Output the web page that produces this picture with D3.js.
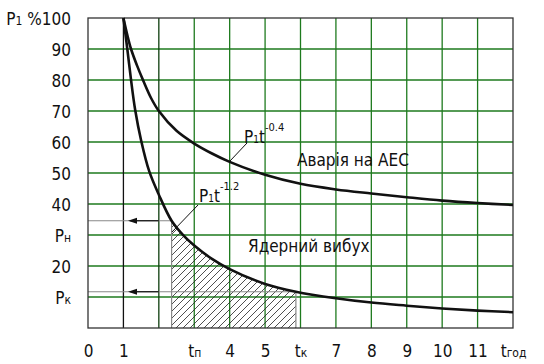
<!DOCTYPE html>
<html><head><meta charset="utf-8">
<script src="https://cdn.jsdelivr.net/npm/d3@7"></script>
<style>
body{margin:0;background:#fff;}
svg text{font-family:"DejaVu Sans Condensed","DejaVu Sans",sans-serif;fill:#111;}
</style></head>
<body><svg id="c" width="544" height="364"></svg>
<script>
// ---- data ----
const xTickValues = [0,1,2,3,4,5,6,7,8,9,10,11,12];
const xTickLabels = ["0","1","","tп","4","5","tк","7","8","9","10","11","tгод"];
const yTickValues = [10,20,30,40,50,60,70,80,90,100];
const yTickLabels = ["Pк","20","Pн","40","50","60","70","80","90","100"];
// accident at NPP curve (P1·t^-0.4)
const aesT = [1,1.1,1.215,1.38,1.56,1.78,2.0,2.5,3.0,3.5,4.0,5.0,6.0,7.0,8.0,9.0,10,11,12];
const aesP = [100,95,90,84.8,79.8,74.2,70,63.6,59.5,56.3,53.6,49.4,46.5,44.7,43.4,42.2,41.1,40.3,39.7];
// nuclear explosion curve (P1·t^-1.2)
const nucT = [1,1.11,1.21,1.33,1.5,1.73,2.0,2.36,2.7,3.0,3.5,4.0,5.0,5.87,7.0,8.0,9.0,10,11,12];
const nucP = [100,90,80.5,70.5,60.5,50.5,43,34.6,29.8,26.6,22.3,19,14.2,11.7,9.6,8.2,7.2,6.3,5.6,5.1];
const tStart = 2.36, tEnd = 5.87;   // tп, tк
const pStart = 34.6, pEnd = 11.7;   // Pн, Pк

const svg = d3.select("#c");
const W=544,H=364, m={l:88,r:31,t:18,b:36};
const x = d3.scaleLinear().domain([0,12]).range([m.l, W-m.r]);
const y = d3.scaleLinear().domain([0,100]).range([H-m.b, m.t]);
const green = "#1e7a1e";
const curve = d3.curveCatmullRom.alpha(0.5);

// hatch pattern
const defs = svg.append("defs");
const pat = defs.append("pattern").attr("id","hatch").attr("patternUnits","userSpaceOnUse")
  .attr("width",7).attr("height",7);
pat.append("path").attr("d","M-1,1 l2,-2 M0,7 l7,-7 M6,8 l2,-2").attr("stroke","#222").attr("stroke-width",0.8);
defs.append("clipPath").attr("id","hclip").append("rect")
  .attr("x",x(tStart)).attr("y",y(100)).attr("width",x(tEnd)-x(tStart)).attr("height",y(0)-y(100));

// horizontal grid
svg.append("g").selectAll("line").data(yTickValues.filter(v=>v<100)).join("line")
  .attr("x1",x(0)).attr("x2",x(12)).attr("y1",d=>y(d)).attr("y2",d=>y(d))
  .attr("stroke",green).attr("stroke-width",1.3);
// vertical grid
svg.append("g").selectAll("line").data(d3.range(1,12)).join("line")
  .attr("x1",d=>x(d)).attr("x2",d=>x(d)).attr("y1",y(0)).attr("y2",y(100))
  .attr("stroke",d=>d===1?"#111":(d===2?"#0d3d0d":green)).attr("stroke-width",1.3);

// hatched area
const area = d3.area().x((d,i)=>x(nucT[i])).y0(y(0)).y1((d,i)=>y(nucP[i])).curve(curve);
svg.append("path").datum(nucP).attr("d",area).attr("fill","url(#hatch)").attr("clip-path","url(#hclip)");
// hatch edges
svg.append("line").attr("x1",x(tStart)).attr("x2",x(tStart)).attr("y1",y(0)).attr("y2",y(pStart)).attr("stroke","#888").attr("stroke-width",1.2);
svg.append("line").attr("x1",x(tEnd)).attr("x2",x(tEnd)).attr("y1",y(0)).attr("y2",y(pEnd)).attr("stroke","#888").attr("stroke-width",1.2);
// Pн, Pк lines
svg.append("line").attr("x1",x(0)).attr("x2",x(tStart)).attr("y1",y(pStart)).attr("y2",y(pStart)).attr("stroke","#888").attr("stroke-width",1.2);
svg.append("line").attr("x1",x(0)).attr("x2",x(tEnd)).attr("y1",y(pEnd)).attr("y2",y(pEnd)).attr("stroke","#888").attr("stroke-width",1.2);
// arrows
[pStart,pEnd].forEach(p=>{
  svg.append("line").attr("x1",x(2)).attr("x2",x(1.2)).attr("y1",y(p)).attr("y2",y(p)).attr("stroke","#111").attr("stroke-width",1.2);
  const ax=x(1.13), ay=y(p);
  svg.append("path").attr("d",`M${ax},${ay} l9,-3 l0,6 z`).attr("fill","#111");
});

// frame
svg.append("rect").attr("x",x(0)).attr("y",y(100)).attr("width",x(12)-x(0)).attr("height",y(0)-y(100))
  .attr("fill","none").attr("stroke","#333").attr("stroke-width",1.3);

// curves
const line = (T)=>d3.line().x((d,i)=>x(T[i])).y(d=>y(d)).curve(curve);
svg.append("path").datum(aesP).attr("d",line(aesT)).attr("fill","none").attr("stroke","#111").attr("stroke-width",2.6);
svg.append("path").datum(nucP).attr("d",line(nucT)).attr("fill","none").attr("stroke","#111").attr("stroke-width",2.6);

// axes
const fs = 17;
function subLabel(sel, txt){
  sel.text(null);
  if (/^[tP]/.test(txt) && txt.length>1){
    sel.append("tspan").text(txt[0]);
    sel.append("tspan").attr("font-size",12).text(txt.slice(1));
  } else sel.text(txt);
}
const xAxis = d3.axisBottom(x).tickValues(xTickValues).tickSize(0).tickFormat("");
const gx = svg.append("g").attr("transform",`translate(0,${y(0)})`).call(xAxis);
gx.select(".domain").remove();
gx.selectAll(".tick").each(function(d,i){
  const t = d3.select(this).append("text").attr("y",29).attr("text-anchor","middle")
    .attr("font-size",fs).attr("fill","#111");
  subLabel(t, xTickLabels[i]);
});
const yAxis = d3.axisLeft(y).tickValues(yTickValues).tickSize(0).tickFormat("");
const gy = svg.append("g").call(yAxis);
gy.select(".domain").remove();
gy.selectAll(".tick").each(function(d,i){
  const t = d3.select(this).append("text").attr("x",71).attr("dy","0.36em").attr("text-anchor","end")
    .attr("font-size",fs).attr("fill","#111");
  if (yTickLabels[i]==="100"){
    t.append("tspan").text("P");
    t.append("tspan").attr("font-size",12).text("1");
    t.append("tspan").text(" %100");
  } else subLabel(t, yTickLabels[i]);
});

// annotations
function formula(px,py,exp){
  const t = svg.append("text").attr("x",px).attr("y",py).attr("font-size",fs);
  t.append("tspan").text("P");
  t.append("tspan").attr("font-size",10).text("1");
  t.append("tspan").text("t");
  t.append("tspan").attr("font-size",11).attr("dy",-12).text(exp);
}
formula(244,143,"-0.4");
svg.append("line").attr("x1",247).attr("y1",143).attr("x2",230).attr("y2",161).attr("stroke","#111").attr("stroke-width",1);
formula(199,202,"-1.2");
svg.append("line").attr("x1",198).attr("y1",205).attr("x2",172).attr("y2",232).attr("stroke","#111").attr("stroke-width",1);

svg.append("text").attr("x",297).attr("y",166).attr("font-size",fs).text("Аварія на АЕС");
svg.append("text").attr("x",248).attr("y",252).attr("font-size",fs).text("Ядерний вибух");
</script></body></html>
